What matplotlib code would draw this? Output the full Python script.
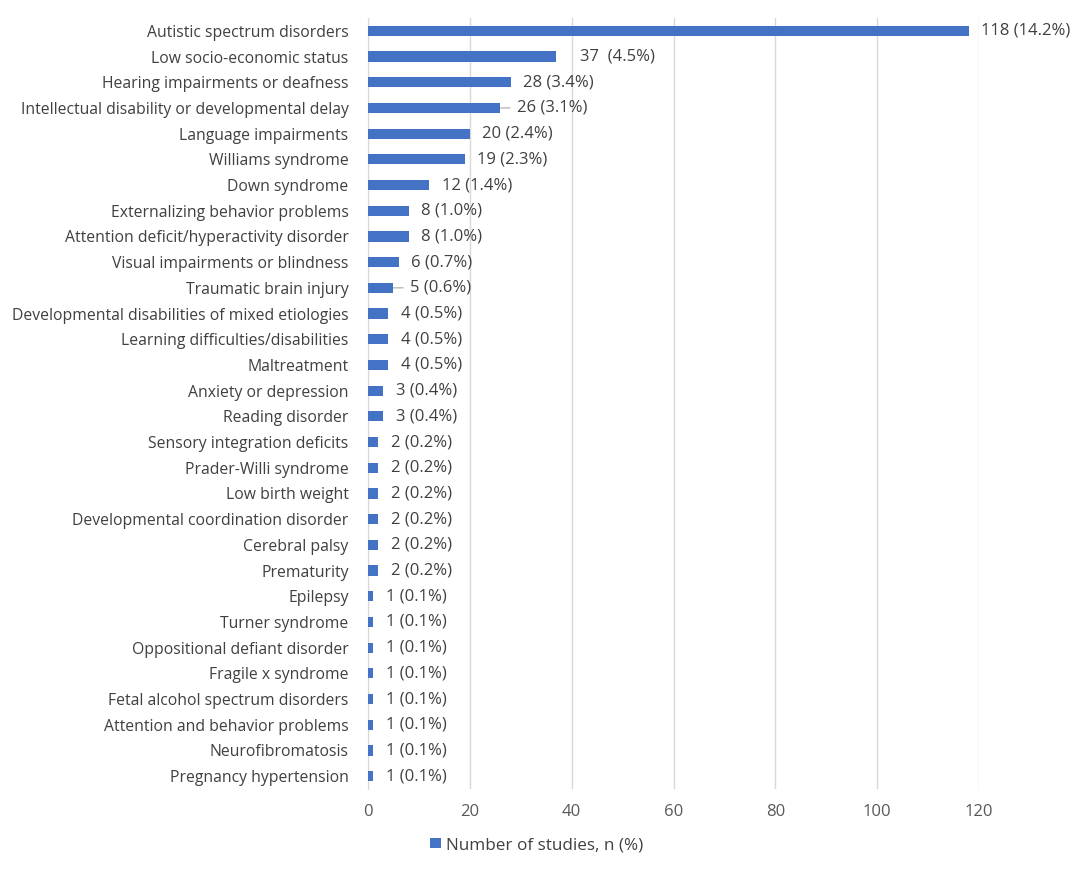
import numpy as np
import matplotlib.pyplot as plt

plt.rcParams['font.family'] = ['Open Sans', 'DejaVu Sans']

categories = ['Autistic spectrum disorders', 'Low socio-economic status',
              'Hearing impairments or deafness', 'Intellectual disability or developmental delay',
              'Language impairments', 'Williams syndrome', 'Down syndrome',
              'Externalizing behavior problems', 'Attention deficit/hyperactivity disorder',
              'Visual impairments or blindness', 'Traumatic brain injury',
              'Developmental disabilities of mixed etiologies', 'Learning difficulties/disabilities',
              'Maltreatment', 'Anxiety or depression', 'Reading disorder',
              'Sensory integration deficits', 'Prader-Willi syndrome', 'Low birth weight',
              'Developmental coordination disorder', 'Cerebral palsy', 'Prematurity',
              'Epilepsy', 'Turner syndrome', 'Oppositional defiant disorder',
              'Fragile x syndrome', 'Fetal alcohol spectrum disorders',
              'Attention and behavior problems', 'Neurofibromatosis', 'Pregnancy hypertension']
counts = [118, 37, 28, 26, 20, 19, 12, 8, 8, 6, 5, 4, 4, 4, 3, 3,
          2, 2, 2, 2, 2, 2, 1, 1, 1, 1, 1, 1, 1, 1]
percents = ['14.2', '4.5', '3.4', '3.1', '2.4', '2.3', '1.4', '1.0', '1.0', '0.7', '0.6',
            '0.5', '0.5', '0.5', '0.4', '0.4', '0.2', '0.2', '0.2', '0.2', '0.2', '0.2',
            '0.1', '0.1', '0.1', '0.1', '0.1', '0.1', '0.1', '0.1']
leader_rows = ['Intellectual disability or developmental delay', 'Traumatic brain injury']
wide_rows = ['Low socio-economic status']

bar_color = '#4472C4'
text_color = '#595959'

fig = plt.figure(figsize=(10.84, 8.88), dpi=100)
ax = fig.add_axes([368/1084, 1-789/888, (979-368)/1084, (789-18)/888])

y = np.arange(len(categories))
ax.barh(y, counts, height=0.4, color=bar_color, label='Number of studies, n (%)', zorder=3)

for i, (c, p, n) in enumerate(zip(categories, percents, counts)):
    if c in wide_rows:
        txt = f'{n}  ({p}%)'
        off = 17
    elif c in leader_rows:
        txt = f'{n} ({p}%)'
        off = 12
        ax.annotate('', xy=(n, i), xytext=(7, 0), textcoords='offset points',
                    arrowprops=dict(arrowstyle='-', color='#A6A6A6', lw=0.8,
                                    shrinkA=0, shrinkB=0))
    else:
        txt = f'{n} ({p}%)'
        off = 9
    ax.annotate(txt, xy=(n, i), xytext=(off, 0), textcoords='offset points',
                va='center', ha='left', fontsize=12, color='#404040', annotation_clip=False)

ax.set_ylim(len(categories) - 0.5, -0.5)
ax.set_xlim(0, 120)
ax.set_xticks(np.arange(0, 121, 20))
ax.set_yticks(y)
ax.set_yticklabels(categories, fontsize=11.3, color='#404040')
ax.tick_params(axis='x', labelsize=12, colors=text_color, length=0, pad=11)
ax.tick_params(axis='y', length=0, pad=14)
ax.grid(axis='x', color='#D9D9D9', lw=1, zorder=0)
for s in ['top', 'right', 'bottom']:
    ax.spines[s].set_visible(False)
ax.spines['left'].set_color('#D9D9D9')

fig.legend(loc='center', bbox_to_anchor=(0.495, 1-845/888), frameon=False,
           fontsize=12.3, handlelength=0.6, handleheight=0.6, handletextpad=0.3,
           labelcolor='#404040')

fig.savefig('out.png', dpi=100, facecolor='white')
